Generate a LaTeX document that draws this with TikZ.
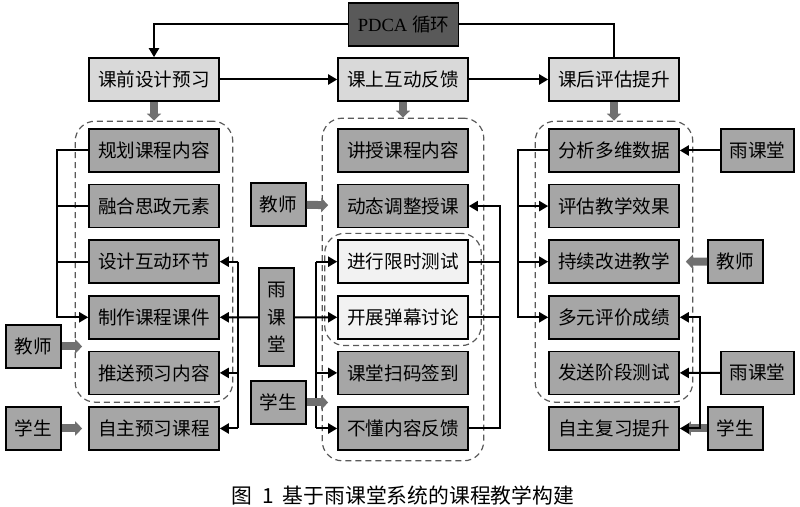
\documentclass[tikz,border=0pt]{standalone}
\usepackage{fontspec}
\setmainfont{Liberation Serif}
\newfontfamily\cjk{Noto Sans CJK SC}
\usepackage{xcolor}
\usepackage{tikz}
\usetikzlibrary{arrows.meta,positioning,fit}

\definecolor{boxgray}{HTML}{A6A6A6}
\definecolor{phasegray}{HTML}{D9D9D9}
\definecolor{pdcagray}{HTML}{595959}
\definecolor{testgray}{HTML}{F2F2F2}
\definecolor{fatgray}{HTML}{707070}

\begin{document}
\begin{tikzpicture}[x=0.5pt, y=-0.5pt, node distance=27.8pt,
    font=\cjk\fontsize{9.3pt}{11pt}\selectfont,
    box/.style={draw, line width=0.8pt, fill=boxgray, minimum width=65pt, minimum height=21.5pt, inner sep=0pt},
    phase/.style={box, fill=phasegray},
    testbox/.style={box, fill=testgray},
    actor/.style={box, minimum width=27.5pt},
    yuke/.style={box, minimum width=36.5pt},
    group/.style={draw=black!65, dash pattern=on 3pt off 2pt, line width=0.6pt, rounded corners=10pt, inner xsep=6.5pt, inner ysep=3.5pt},
    conn/.style={-{Triangle[length=4.5pt,width=5pt]}, line width=1pt},
    wire/.style={line width=1pt},
    fat/.style={-{Triangle[length=3.5pt,width=7pt]}, line width=4pt, draw=fatgray},
  ]
  \useasboundingbox (0,0) rectangle (800,507);

  % PDCA and the three phases
  \node (pdca) [box, fill=pdcagray, minimum width=55pt] at (403.5,24.5) {\rmfamily PDCA \cjk 循环};
  \node (preL) [phase] at (154,79.5) {课前设计预习};
  \node (inM) [phase] at (403,79.5) {课上互动反馈};
  \node (postR) [phase] at (614,79.5) {课后评估提升};

  % before class
  \node (pre1) [box] at (154,150.5) {规划课程内容};
  \node (pre2) [box, below of=pre1] {融合思政元素};
  \node (pre3) [box, below of=pre2] {设计互动环节};
  \node (pre4) [box, below of=pre3] {制作课程课件};
  \node (pre5) [box, below of=pre4] {推送预习内容};
  \node (pre6) [box, below of=pre5] {自主预习课程};

  % in class
  \node (in1) [box] at (403,150.5) {讲授课程内容};
  \node (in2) [box, below of=in1] {动态调整授课};
  \node (in3) [testbox, below of=in2] {进行限时测试};
  \node (in4) [testbox, below of=in3] {开展弹幕讨论};
  \node (in5) [box, below of=in4] {课堂扫码签到};
  \node (in6) [box, below of=in5] {不懂内容反馈};

  % after class
  \node (post1) [box] at (614,150.5) {分析多维数据};
  \node (post2) [box, below of=post1] {评估教学效果};
  \node (post3) [box, below of=post2] {持续改进教学};
  \node (post4) [box, below of=post3] {多元评价成绩};
  \node (post5) [box, below of=post4] {发送阶段测试};
  \node (post6) [box, below of=post5] {自主复习提升};

  % actors
  \node (teaL) [actor] at (33.5,346.5) {教师};
  \node (stuL) [actor] at (33.5,428.5) {学生};
  \node (teaM) [actor] at (278.5,204.5) {教师};
  \node (stuM) [actor] at (278.5,402.5) {学生};
  \node (rainM) [box, minimum width=17.5pt, minimum height=49pt, align=center, font=\cjk\fontsize{9.3pt}{13.75pt}\selectfont] at (276.5,317.3) {雨\\课\\堂};
  \node (rainR1) [yuke] at (757.5,150.5) {雨课堂};
  \node (teaR) [actor] at (735.5,261.7) {教师};
  \node (rainR2) [yuke] at (757.5,372.9) {雨课堂};
  \node (stuR) [actor] at (735.5,428.5) {学生};

  % dashed groups
  \node (grpL) [group, fit=(pre1) (pre5)] {};
  \node (grpM) [group, fit=(in1) (in6), inner xsep=7.5pt, inner ysep=5pt] {};
  \node (grpT) [group, fit=(in3) (in4), inner xsep=6.25pt, inner ysep=3pt] {};
  \node (grpR) [group, fit=(post1) (post5)] {};

  \node (caption) [font=\cjk\fontsize{10.4pt}{12pt}\selectfont] at (403,496) {图\hspace{0.45em}1\hspace{0.45em}基于雨课堂系统的课程教学构建};

  % PDCA loop
  \draw[conn] (pdca.west) -| (preL.north);
  \draw[wire] (pdca.east) -| (postR.north);
  \draw[conn] (preL) -- (inM);
  \draw[conn] (inM) -- (postR);
  \draw[fat] (preL) -- (grpL);
  \draw[fat] (inM) -- (grpM);
  \draw[fat] (postR) -- (grpR);

  % before class links
  \coordinate (busL) at (57,0);
  \draw[conn] (pre1.west) -- (pre1.west -| busL) -- (pre4.west -| busL) -- (pre4.west);
  \draw[wire] (pre2.west) -- (pre2.west -| busL);
  \draw[wire] (pre3.west) -- (pre3.west -| busL);
  \draw[fat, shorten >=3pt] (teaL.east) -- (teaL.east -| pre5.west);
  \draw[fat, shorten >=3pt] (stuL) -- (pre6);

  % rain classroom, both sides
  \coordinate (busYL) at (238,0);
  \coordinate (busYR) at (316,0);
  \draw[conn] (rainM) -- (pre4);
  \draw[wire] (pre3.east -| busYL) -- (pre6.east -| busYL);
  \draw[conn] (pre3.east -| busYL) -- (pre3.east);
  \draw[conn] (pre5.east -| busYL) -- (pre5.east);
  \draw[conn] (pre6.east -| busYL) -- (pre6.east);
  \draw[conn] (rainM) -- (in4);
  \draw[wire] (in3.west -| busYR) -- (in6.west -| busYR);
  \draw[conn] (in3.west -| busYR) -- (in3.west);
  \draw[conn] (in5.west -| busYR) -- (in5.west);
  \draw[conn] (in6.west -| busYR) -- (in6.west);

  % in class feedback
  \draw[fat, shorten >=4.5pt] (teaM) -- (in2);
  \draw[fat, shorten >=4.5pt] (stuM.east) -- (stuM.east -| in6.west);
  \coordinate (busFb) at (500,0);
  \draw[wire] (in3.east) -- (in3.east -| busFb);
  \draw[wire] (in4.east) -- (in4.east -| busFb);
  \draw[conn] (in6.east) -| (busFb |- in2.east) -- (in2.east);

  % after class links
  \coordinate (busR) at (518,0);
  \coordinate (busRR) at (700,0);
  \draw[conn] (post1.west) -- (post1.west -| busR) -- (post4.west -| busR) -- (post4.west);
  \draw[conn] (post2.west -| busR) -- (post2.west);
  \draw[conn] (post3.west -| busR) -- (post3.west);
  \draw[conn] (rainR1) -- (post1);
  \draw[fat, shorten >=3pt] (teaR) -- (post3);
  \draw[fat, shorten >=2pt] (stuR) -- (post6);
  \draw[conn] (rainR2) -- (post5);
  \draw[conn] (busRR |- rainR2.west) |- (post4.east);
  \draw[conn] (busRR |- rainR2.west) |- (post6.east);
\end{tikzpicture}
\end{document}
